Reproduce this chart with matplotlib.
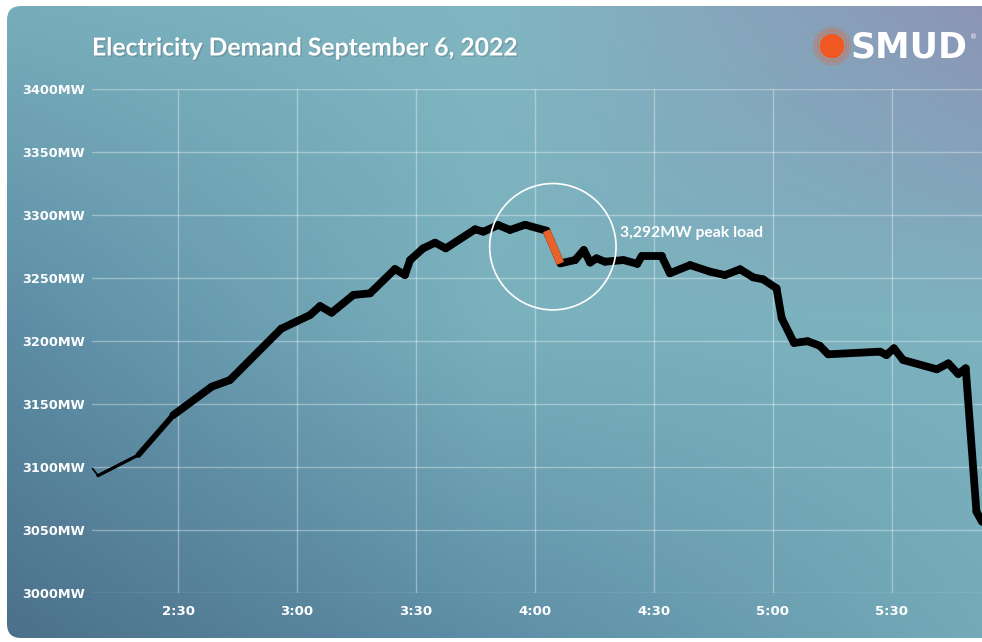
import numpy as np
import matplotlib
matplotlib.use("Agg")
import matplotlib.pyplot as plt
from matplotlib.collections import LineCollection
from matplotlib.patches import FancyBboxPatch, Circle
import matplotlib.patheffects as pe

# demand readings, minutes after 2:00 pm and MW
minutes = [8.4, 9.8, 20.0, 28.8, 38.5, 43.1, 56.0, 63.3, 65.8, 68.7, 74.2, 78.4,
           84.7, 87.2, 88.5, 91.8, 94.8, 97.5, 104.9, 107.0, 110.7, 113.7, 117.5,
           122.9, 126.4, 130.1, 132.3, 133.9, 135.5, 137.6, 142.3, 145.8, 146.9,
           151.9, 154.0, 159.1, 164.1, 167.9, 171.7, 175.0, 177.5, 180.9, 182.2,
           185.3, 188.7, 191.8, 193.9, 207.0, 208.6, 210.5, 212.8, 221.3, 224.2,
           226.7, 228.6, 231.3, 232.7]
demand = [3098.7, 3092.9, 3109.3, 3141.0, 3163.5, 3168.8, 3209.5, 3220.4, 3227.5,
          3222.2, 3236.3, 3237.6, 3256.9, 3252.1, 3264.0, 3273.3, 3277.8, 3273.3,
          3288.4, 3286.5, 3291.8, 3287.9, 3292.0, 3287.3, 3261.4, 3264.0, 3272.0,
          3262.0, 3265.4, 3262.7, 3264.0, 3261.0, 3267.2, 3267.2, 3253.5, 3260.0,
          3254.8, 3252.1, 3256.7, 3250.3, 3248.7, 3241.6, 3217.8, 3198.2, 3199.6,
          3196.0, 3189.2, 3191.3, 3188.6, 3194.0, 3184.7, 3177.3, 3182.0, 3173.6,
          3178.1, 3064.3, 3056.3]
drop_idx = 23  # segment after the peak, drawn in orange

xtick_min = [30, 60, 90, 120, 150, 180, 210]
xtick_lab = ["2:30", "3:00", "3:30", "4:00", "4:30", "5:00", "5:30"]
ytick_val = [3000, 3050, 3100, 3150, 3200, 3250, 3300, 3350, 3400]
ytick_lab = [str(v) + "MW" for v in ytick_val]

title = "Electricity Demand September 6, 2022"
peak_text = "3,292MW peak load"

W, H = 982, 642
fig = plt.figure(figsize=(W / 100, H / 100), dpi=100)
fig.patch.set_facecolor("white")

### background card with gradient
bg = fig.add_axes([0, 0, 1, 1], zorder=-1)
bg.set_xlim(0, W)
bg.set_ylim(H, 0)
bg.axis("off")

def rgb(h):
    return np.array([int(h[i:i + 2], 16) for i in (1, 3, 5)]) / 255

grid_cols = np.array([[rgb("#78aebb"), rgb("#80b7c2"), rgb("#8d94b6")],
                      [rgb("#5c8ca5"), rgb("#7ab1bd"), rgb("#7db2bf")],
                      [rgb("#4b7089"), rgb("#5d8ea6"), rgb("#74aab8")]])
xs = np.linspace(0, 2, W)
ys = np.linspace(0, 2, H)
rows = np.zeros((3, W, 3))
for r in range(3):
    for c in range(3):
        rows[r, :, c] = np.interp(xs, [0, 1, 2], grid_cols[r, :, c])
img = np.zeros((H, W, 3))
for c in range(3):
    for j in range(W):
        img[:, j, c] = np.interp(ys, [0, 1, 2], rows[:, j, c])
im = bg.imshow(img, extent=(0, W, H, 0), aspect="auto")
card = FancyBboxPatch((7, 6), 1000, 632, boxstyle="round,pad=0,rounding_size=14",
                      transform=bg.transData, facecolor="none", edgecolor="none")
bg.add_patch(card)
im.set_clip_path(card)

# title
bg.text(92, 48, title, fontsize=17.8, fontweight="bold", family="Lato", color="white",
        va="center", ha="left",
        path_effects=[pe.withSimplePatchShadow(offset=(1, -1), alpha=0.25)])

# SMUD logo
for r, a in [(18.5, 0.35), (16.5, 0.5), (14.5, 0.7)]:
    bg.add_patch(Circle((832, 46), r, facecolor="none", edgecolor="#e8622a", lw=0.8, alpha=a))
bg.add_patch(Circle((832, 46), 12.5, facecolor="#f05a22", edgecolor="none"))
bg.text(851, 47, "SMUD", fontsize=25, fontweight="bold", color="white", va="center", ha="left")
bg.text(974, 37, "\u00ae", fontsize=5, color="white", va="center", ha="center")

### chart
ax = fig.add_axes([92 / W, 1 - 592.7 / H, 1 - 92 / W, 504 / H])
ax.set_facecolor("none")
ax.set_xlim(8.3, 232.7)
ax.set_ylim(3000, 3400)

ax.set_xticks(xtick_min)
ax.set_xticklabels(xtick_lab)
ax.set_yticks(ytick_val)
ax.set_yticklabels(ytick_lab)
ax.tick_params(length=0, colors="white", labelsize=9.5)
ax.tick_params(axis="x", pad=9)
ax.tick_params(axis="y", pad=5, labelsize=9.3)
for lab in ax.get_xticklabels() + ax.get_yticklabels():
    lab.set_fontweight("bold")
ax.grid(True, color="white", alpha=0.35, lw=1)
for s in ax.spines.values():
    s.set_visible(False)

# demand line, thin at the very start
x = np.array(minutes)
y = np.array(demand)
segs = np.stack([np.column_stack([x[:-1], y[:-1]]), np.column_stack([x[1:], y[1:]])], axis=1)
mid = (x[:-1] + x[1:]) / 2
widths = np.interp(mid, [8, 32], [1.0, 5.6])
lc = LineCollection(segs, linewidths=widths, colors="black", capstyle="round",
                    joinstyle="round", zorder=3)
ax.add_collection(lc)
ax.plot(x[drop_idx:drop_idx + 2], y[drop_idx:drop_idx + 2], color="#e8622a", lw=5.6,
        solid_capstyle="butt", zorder=4)

# highlight circle and label
ax.scatter([124.5], [3274.6], s=91 ** 2, facecolors="none", edgecolors="white",
           linewidths=1.2, zorder=5, clip_on=False)
ax.text(141.4, 3285.5, peak_text, fontsize=11.3, fontweight="bold", family="Lato",
        color="white", va="center", ha="left", zorder=5)

plt.savefig("out.png", dpi=100)
